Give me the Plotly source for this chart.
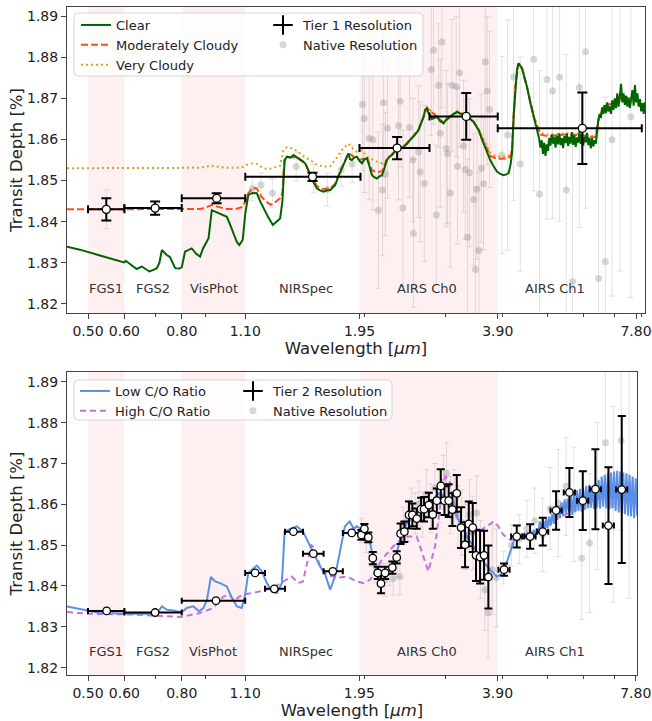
import numpy as np
import plotly.graph_objects as go

FONT = "DejaVu Sans"

# ---------------- shared axis / detector info ----------------
band_lo = [0.50, 0.80, 1.95]
band_hi = [0.60, 1.10, 3.90]
det_names = ["FGS1", "FGS2", "VisPhot", "NIRSpec", "AIRS Ch0", "AIRS Ch1"]
det_label_x = [0.548, 0.693, 0.938, 1.49, 2.74, 5.20]
det_label_y_top = 1.8238
det_label_y_bot = 1.8239
tick_vals = [0.50, 0.60, 0.80, 1.10, 1.95, 3.90, 7.80]
tick_text = ["0.50", "0.60", "0.80", "1.10", "1.95", "3.90", "7.80"]
minor_vals = [0.7, 0.9, 2, 3, 4, 5, 6, 7, 8]
ytick_vals = [1.82, 1.83, 1.84, 1.85, 1.86, 1.87, 1.88, 1.89]
ytick_text = ["1.82", "1.83", "1.84", "1.85", "1.86", "1.87", "1.88", "1.89"]

# ---------------- TOP PANEL: cloud models ----------------
clear_wl = [0.450, 0.480, 0.531, 0.558, 0.587, 0.599, 0.604, 0.617, 0.638, 0.655,
            0.668, 0.680, 0.694, 0.706, 0.715, 0.724, 0.733, 0.742, 0.754, 0.774,
            0.790, 0.800, 0.813, 0.830, 0.841, 0.860, 0.877, 0.890, 0.904, 0.915,
            0.930, 0.950, 0.970, 1.003, 1.020, 1.037, 1.055, 1.068, 1.086, 1.100,
            1.117, 1.140, 1.166, 1.185, 1.205, 1.235, 1.263, 1.290, 1.310, 1.325,
            1.332, 1.340, 1.355, 1.380, 1.401, 1.420, 1.436, 1.460, 1.485, 1.523,
            1.550, 1.575, 1.600, 1.628, 1.655, 1.684, 1.726, 1.755, 1.785, 1.815,
            1.845, 1.860, 1.877, 1.900, 1.925, 1.950, 1.974, 2.000, 2.024, 2.050,
            2.076, 2.100, 2.128, 2.155, 2.183, 2.210, 2.238, 2.265, 2.295, 2.325,
            2.352, 2.390, 2.432, 2.470, 2.515, 2.570, 2.622, 2.660, 2.689, 2.710,
            2.735, 2.760, 2.781, 2.805, 2.830, 2.876, 2.920, 2.973, 3.020, 3.074,
            3.130, 3.179, 3.240, 3.314, 3.380, 3.454, 3.500, 3.542, 3.590, 3.632,
            3.700, 3.756, 3.820, 3.885, 3.950, 4.017, 4.070, 4.119, 4.160, 4.189,
            4.225, 4.259, 4.295, 4.329, 4.365, 4.405, 4.460, 4.516, 4.590, 4.668,
            4.750]
clear_td = [1.8339, 1.8332, 1.8318, 1.8311, 1.8302, 1.8301, 1.8305, 1.8298, 1.8285, 1.8291,
            1.8284, 1.8279, 1.8283, 1.8287, 1.8300, 1.8331, 1.8325, 1.8319, 1.8314, 1.8287,
            1.8286, 1.8289, 1.8327, 1.8333, 1.8335, 1.8322, 1.8315, 1.8335, 1.8351, 1.8360,
            1.8428, 1.8423, 1.8420, 1.8412, 1.8392, 1.8372, 1.8350, 1.8343, 1.8356, 1.8420,
            1.8465, 1.8470, 1.8469, 1.8450, 1.8433, 1.8410, 1.8392, 1.8400, 1.8408, 1.8450,
            1.8520, 1.8550, 1.8558, 1.8556, 1.8562, 1.8558, 1.8554, 1.8548, 1.8542, 1.8513,
            1.8495, 1.8481, 1.8476, 1.8473, 1.8476, 1.8477, 1.8489, 1.8510, 1.8530, 1.8550,
            1.8566, 1.8552, 1.8550, 1.8556, 1.8558, 1.8548, 1.8542, 1.8552, 1.8554, 1.8535,
            1.8513, 1.8508, 1.8505, 1.8510, 1.8513, 1.8530, 1.8550, 1.8558, 1.8562, 1.8570,
            1.8574, 1.8578, 1.8582, 1.8588, 1.8599, 1.8610, 1.8623, 1.8640, 1.8655, 1.8672,
            1.8676, 1.8662, 1.8659, 1.8650, 1.8652, 1.8655, 1.8645, 1.8639, 1.8650, 1.8655,
            1.8662, 1.8667, 1.8662, 1.8659, 1.8652, 1.8643, 1.8632, 1.8623, 1.8605, 1.8591,
            1.8568, 1.8550, 1.8535, 1.8522, 1.8516, 1.8513, 1.8515, 1.8518, 1.8540, 1.8566,
            1.8660, 1.8728, 1.8770, 1.8785, 1.8780, 1.8773, 1.8750, 1.8728, 1.8690, 1.8655,
            1.8625]
# high-resolution (noisy) AIRS Ch1 part of the clear model, 4.80 - 8.16 um
clear_hires_start, clear_hires_end = 4.80, 8.16
clear_hires_td = [1.8602, 1.8580, 1.8598, 1.8565, 1.8592, 1.8560, 1.8588,
                  1.8572, 1.8604, 1.8585, 1.8612, 1.8590, 1.8606, 1.8580, 1.8609, 1.8588, 1.8615,
                  1.8586, 1.8603, 1.8579, 1.8608, 1.8591,
                  1.8614, 1.8584, 1.8606, 1.8590, 1.8618, 1.8587, 1.8610, 1.8582, 1.8605, 1.8592,
                  1.8620, 1.8589, 1.8611, 1.8585,
                  1.8607, 1.8593, 1.8616, 1.8586, 1.8604, 1.8578, 1.8603, 1.8583, 1.8598, 1.8590,
                  1.8625, 1.8648, 1.8662, 1.8652, 1.8678,
                  1.8662, 1.8684, 1.8664, 1.8690, 1.8668, 1.8680, 1.8662, 1.8695, 1.8672,
                  1.8700, 1.8676, 1.8712, 1.8680, 1.8705, 1.8735, 1.8690, 1.8712, 1.8684, 1.8706, 1.8680,
                  1.8700, 1.8676, 1.8695, 1.8720, 1.8682, 1.8732, 1.8690, 1.8712, 1.8680, 1.8698,
                  1.8668, 1.8688, 1.8662, 1.8690]

mod_wl = [0.450, 0.600, 0.800, 0.880, 0.900, 0.930, 0.960, 1.000, 1.050, 1.086,
          1.100, 1.117, 1.140, 1.166, 1.190, 1.220, 1.250, 1.280, 1.310, 1.325,
          1.332, 1.340, 1.380, 1.436, 1.485, 1.523, 1.575, 1.628, 1.684, 1.726,
          1.785, 1.845, 1.900, 1.950, 2.024, 2.076, 2.128, 2.183, 2.238, 2.295,
          2.352, 2.432, 2.515, 2.622, 2.735, 2.876, 2.973, 3.074, 3.179, 3.314,
          3.454, 3.542, 3.632, 3.756, 3.885, 4.017, 4.119, 4.160, 4.189, 4.225,
          4.259, 4.329, 4.405, 4.516, 4.668, 4.827, 5.000, 5.500, 6.000, 6.360,
          6.470, 6.630, 6.970, 7.330, 7.710, 8.170]
mod_td = [1.8430, 1.8430, 1.8430, 1.8431, 1.8434, 1.8441, 1.8436, 1.8431, 1.8431, 1.8436,
          1.8450, 1.8469, 1.8482, 1.8481, 1.8462, 1.8449, 1.8441, 1.8448, 1.8457, 1.8470,
          1.8520, 1.8550, 1.8557, 1.8555, 1.8543, 1.8516, 1.8486, 1.8479, 1.8481, 1.8492,
          1.8532, 1.8567, 1.8557, 1.8550, 1.8556, 1.8525, 1.8520, 1.8523, 1.8552, 1.8563,
          1.8575, 1.8583, 1.8600, 1.8624, 1.8676, 1.8655, 1.8640, 1.8655, 1.8667, 1.8659,
          1.8643, 1.8624, 1.8594, 1.8560, 1.8553, 1.8553, 1.8555, 1.8560, 1.8572, 1.8660,
          1.8728, 1.8784, 1.8772, 1.8727, 1.8656, 1.8612, 1.8608, 1.8612, 1.8610, 1.8605,
          1.8650, 1.8678, 1.8690, 1.8705, 1.8695, 1.8685]

vc_wl = [0.450, 0.600, 0.800, 0.880, 0.920, 0.960, 1.000, 1.050, 1.086, 1.117,
         1.140, 1.166, 1.205, 1.240, 1.280, 1.310, 1.332, 1.355, 1.401, 1.436,
         1.485, 1.523, 1.575, 1.628, 1.684, 1.726, 1.785, 1.845, 1.877, 1.925,
         1.974, 2.024, 2.076, 2.128, 2.183, 2.238, 2.295, 2.352, 2.432, 2.515,
         2.622, 2.735, 2.876, 2.973, 3.074, 3.179, 3.314, 3.454, 3.542, 3.632,
         3.756, 3.885, 4.017, 4.119, 4.160, 4.189, 4.225, 4.259, 4.329, 4.405,
         4.516, 4.668, 4.827, 5.000, 5.500, 6.000, 6.360, 6.470, 6.630, 6.970,
         7.330, 7.710, 8.170]
vc_td = [1.8530, 1.8530, 1.8530, 1.8531, 1.8536, 1.8534, 1.8531, 1.8531, 1.8533, 1.8540,
         1.8542, 1.8540, 1.8530, 1.8528, 1.8532, 1.8536, 1.8574, 1.8581, 1.8578, 1.8568,
         1.8556, 1.8550, 1.8538, 1.8534, 1.8535, 1.8550, 1.8574, 1.8590, 1.8580, 1.8570,
         1.8574, 1.8558, 1.8552, 1.8546, 1.8542, 1.8550, 1.8565, 1.8578, 1.8584, 1.8601,
         1.8625, 1.8678, 1.8657, 1.8642, 1.8657, 1.8669, 1.8661, 1.8645, 1.8627, 1.8600,
         1.8567, 1.8558, 1.8558, 1.8560, 1.8565, 1.8580, 1.8662, 1.8729, 1.8786, 1.8774,
         1.8729, 1.8658, 1.8616, 1.8612, 1.8615, 1.8613, 1.8607, 1.8652, 1.8680, 1.8692,
         1.8707, 1.8697, 1.8687]

# Tier 1 binned data
tier1_wl = [0.548, 0.700, 0.953, 1.541, 2.355, 3.330, 5.960]
tier1_td = [1.8430, 1.8433, 1.8457, 1.8509, 1.8579, 1.8656, 1.8627]
tier1_err = [0.0027, 0.0016, 0.0012, 0.0010, 0.0027, 0.0057, 0.0087]
tier1_lo = [0.50, 0.60, 0.80, 1.10, 1.95, 2.77, 3.90]
tier1_hi = [0.60, 0.80, 1.10, 1.96, 2.77, 3.90, 8.03]

# native resolution (top)
nat1_wl = [0.548, 0.700, 0.953, 1.14, 1.19, 1.26, 1.42, 1.55, 1.66, 1.78, 1.88,
           1.980, 1.997, 2.048, 2.086, 2.145, 2.189, 2.200, 2.219, 2.244, 2.372,
           2.391, 2.424, 2.506, 2.549, 2.557, 2.622, 2.644, 2.698, 2.795, 2.827,
           2.866, 2.899, 2.924, 2.949, 3.013, 3.033, 3.074, 3.100, 3.167, 3.188,
           3.220, 3.285, 3.314, 3.352, 3.385, 3.454, 3.489, 3.513, 3.549, 3.590,
           3.632, 3.664, 3.701, 3.743,
           3.984, 4.097, 4.222, 4.367, 4.668, 4.810, 4.992, 5.134, 5.318, 5.500,
           5.676, 5.870, 6.058, 6.468, 6.689, 6.918, 7.200, 7.600]
nat1_td = [1.8430, 1.8433, 1.8457, 1.8481, 1.8489, 1.8470, 1.8534, 1.8505, 1.8478, 1.8526, 1.8540,
           1.8685, 1.8651, 1.8603, 1.8599, 1.8428, 1.8477, 1.8689, 1.8516, 1.8627, 1.8633,
           1.8693, 1.8433, 1.8629, 1.8550, 1.8372, 1.8570, 1.8521, 1.8493, 1.8770, 1.8817,
           1.8416, 1.8731, 1.8615, 1.8837, 1.8578, 1.8565, 1.8470, 1.8732, 1.8728, 1.8535,
           1.8762, 1.8584, 1.8527, 1.8362, 1.8519, 1.8454, 1.8284, 1.8479, 1.8330, 1.8530,
           1.8492, 1.8789, 1.8718, 1.8673,
           1.8562, 1.8611, 1.8752, 1.8540, 1.8795, 1.8467, 1.8746, 1.8718, 1.8751, 1.8477,
           1.8254, 1.8726, 1.8813, 1.8262, 1.8303, 1.8599, 1.8700, 1.8655]
nat1_err = [0.0047, 0.0018, 0.0014, 0.0030, 0.0030, 0.0035, 0.0035, 0.0035, 0.0040, 0.0040, 0.0045,
            0.016, 0.018, 0.015, 0.017, 0.019, 0.016, 0.018, 0.015, 0.017, 0.018,
            0.016, 0.019, 0.017, 0.015, 0.018, 0.016, 0.017, 0.019, 0.016, 0.018,
            0.017, 0.015, 0.018, 0.016, 0.019, 0.017, 0.018, 0.016, 0.017, 0.019,
            0.018, 0.016, 0.017, 0.019, 0.018, 0.016, 0.020, 0.017, 0.019, 0.018,
            0.016, 0.020, 0.018, 0.019,
            0.024, 0.028, 0.030, 0.026, 0.032, 0.030, 0.034, 0.031, 0.035, 0.033,
            0.036, 0.034, 0.038, 0.036, 0.040, 0.038, 0.042, 0.044]

# ---------------- BOTTOM PANEL: C/O models ----------------
low_wl = [0.450, 0.531, 0.628, 0.706, 0.724, 0.742, 0.766, 0.800, 0.820, 0.848,
          0.873, 0.892, 0.908, 0.926, 0.946, 0.970, 1.003, 1.029, 1.055, 1.081,
          1.100, 1.117, 1.166, 1.196, 1.226, 1.257, 1.289, 1.322, 1.333, 1.340,
          1.380, 1.425, 1.470, 1.506, 1.545, 1.601, 1.643, 1.684, 1.726, 1.770,
          1.814, 1.857, 1.897, 1.925, 1.960, 2.007, 2.058, 2.110, 2.164, 2.238,
          2.313, 2.391, 2.474, 2.557, 2.644, 2.781, 2.899, 3.024, 3.126, 3.232,
          3.342, 3.454, 3.603, 3.756, 3.885, 4.017, 4.154, 4.230]
low_td = [1.8350, 1.8334, 1.8332, 1.8332, 1.8350, 1.8342, 1.8340, 1.8335, 1.8346, 1.8350,
          1.8338, 1.8346, 1.8366, 1.8422, 1.8411, 1.8407, 1.8399, 1.8371, 1.8350, 1.8346,
          1.8379, 1.8432, 1.8450, 1.8436, 1.8407, 1.8387, 1.8383, 1.8407, 1.8480, 1.8533,
          1.8540, 1.8546, 1.8533, 1.8509, 1.8485, 1.8448, 1.8428, 1.8391, 1.8423, 1.8481,
          1.8546, 1.8558, 1.8540, 1.8546, 1.8540, 1.8538, 1.8505, 1.8448, 1.8415, 1.8423,
          1.8448, 1.8513, 1.8554, 1.8570, 1.8587, 1.8603, 1.8627, 1.8615, 1.8587, 1.8554,
          1.8521, 1.8497, 1.8464, 1.8440, 1.8423, 1.8432, 1.8481, 1.8510]
low_hires_start, low_hires_end = 4.26, 7.86
low_hires_td = [1.8524, 1.8514, 1.8526, 1.8515, 1.8528, 1.8517, 1.8530, 1.8518, 1.8532, 1.8520,
                1.8533, 1.8521, 1.8537, 1.8525, 1.8541, 1.8528, 1.8558, 1.8534, 1.8562, 1.8538,
                1.8566, 1.8542, 1.8570, 1.8548, 1.8576, 1.8552, 1.8592, 1.8562, 1.8598, 1.8566,
                1.8605, 1.8574, 1.8612, 1.8578, 1.8614, 1.8580, 1.8622, 1.8574, 1.8628, 1.8580,
                1.8634, 1.8584, 1.8638, 1.8582, 1.8640, 1.8586, 1.8645, 1.8590, 1.8648, 1.8592,
                1.8646, 1.8588, 1.8652, 1.8592, 1.8660, 1.8590, 1.8668, 1.8594, 1.8672, 1.8590,
                1.8676, 1.8588, 1.8678, 1.8590, 1.8680, 1.8584, 1.8682, 1.8580, 1.8680, 1.8578,
                1.8678, 1.8576, 1.8676, 1.8572, 1.8672, 1.8570, 1.8668, 1.8566, 1.8664, 1.8572]

high_wl = [0.450, 0.500, 0.628, 0.700, 0.800, 0.877, 0.938, 0.986, 1.016, 1.040,
           1.068, 1.100, 1.146, 1.205, 1.263, 1.332, 1.389, 1.436, 1.470, 1.506,
           1.531, 1.556, 1.601, 1.657, 1.742, 1.832, 1.925, 1.990, 2.058, 2.120,
           2.183, 2.275, 2.352, 2.474, 2.601, 2.689, 2.756, 2.851, 2.924, 2.998,
           3.062, 3.126, 3.208, 3.314, 3.513, 3.695, 3.822, 3.916, 4.017, 4.154,
           4.300, 4.592, 4.909, 5.250, 5.612, 6.000, 6.415, 6.860, 7.333, 7.860]
high_td = [1.8336, 1.8332, 1.8330, 1.8327, 1.8324, 1.8334, 1.8346, 1.8374, 1.8379, 1.8364,
           1.8374, 1.8380, 1.8383, 1.8389, 1.8395, 1.8411, 1.8423, 1.8407, 1.8411, 1.8464,
           1.8501, 1.8493, 1.8448, 1.8428, 1.8420, 1.8423, 1.8411, 1.8407, 1.8415, 1.8440,
           1.8464, 1.8489, 1.8505, 1.8521, 1.8521, 1.8472, 1.8436, 1.8497, 1.8595, 1.8668,
           1.8660, 1.8611, 1.8562, 1.8530, 1.8530, 1.8546, 1.8558, 1.8546, 1.8525, 1.8513,
           1.8515, 1.8522, 1.8540, 1.8565, 1.8580, 1.8600, 1.8612, 1.8625, 1.8630, 1.8625]

# Tier 2 binned data: photometry + NIRSpec bins
tier2a_wl = [0.549, 0.700, 0.950, 1.156, 1.273, 1.401, 1.548, 1.707, 1.877]
tier2a_td = [1.8339, 1.8335, 1.8364, 1.8432, 1.8393, 1.8533, 1.8479, 1.8436, 1.8530]
tier2a_err = [0.0003, 0.0003, 0.0003, 0.0004, 0.0004, 0.0004, 0.0005, 0.0005, 0.0005]
tier2a_lo = [0.50, 0.60, 0.80, 1.10, 1.215, 1.343, 1.470, 1.630, 1.795]
tier2a_hi = [0.60, 0.80, 1.10, 1.215, 1.343, 1.470, 1.630, 1.795, 1.950]
# Tier 2 binned data: AIRS bins
tier2b_wl = [1.970, 2.000, 2.040, 2.086, 2.139, 2.173, 2.219, 2.301, 2.352, 2.398,
             2.444, 2.502, 2.544, 2.601, 2.658, 2.698, 2.763, 2.818, 2.876, 2.934,
             2.988, 3.053, 3.109, 3.179, 3.248, 3.314, 3.376, 3.444, 3.501, 3.573,
             3.645, 3.725,
             4.030, 4.295, 4.592, 4.893, 5.232, 5.593, 5.981, 6.372, 6.802, 7.272]
tier2b_td = [1.8525, 1.8540, 1.8519, 1.8468, 1.8432, 1.8406, 1.8432, 1.8445, 1.8470, 1.8528,
             1.8533, 1.8574, 1.8574, 1.8565, 1.8588, 1.8588, 1.8598, 1.8575, 1.8609, 1.8645,
             1.8609, 1.8609, 1.8587, 1.8627, 1.8543, 1.8501, 1.8552, 1.8543, 1.8475, 1.8471,
             1.8475, 1.8422,
             1.8440, 1.8521, 1.8521, 1.8533, 1.8585, 1.8629, 1.8609, 1.8637, 1.8548, 1.8636]
tier2b_err = [0.0012, 0.0012, 0.0012, 0.0015, 0.0015, 0.0024, 0.0015, 0.0015, 0.0015, 0.0025,
              0.0025, 0.0033, 0.0028, 0.0025, 0.0028, 0.0030, 0.0030, 0.0035, 0.0030, 0.0041,
              0.0035, 0.0040, 0.0040, 0.0045, 0.0050, 0.0055, 0.0055, 0.0060, 0.0063, 0.0065,
              0.0060, 0.0077,
              0.0015, 0.0027, 0.0030, 0.0034, 0.0047, 0.0060, 0.0072, 0.0098, 0.0143, 0.0180]
airs_ch0_bin_rel = 0.012
airs_ch1_bin_rel = 0.028

# native resolution (bottom)
nat2_wl = [1.97, 2.02, 2.07, 2.12, 2.17, 2.22, 2.27, 2.31, 2.36, 2.39,
           2.43, 2.48, 2.53, 2.58, 2.63, 2.68, 2.73, 2.79, 2.85, 2.91,
           2.97, 3.02, 3.08, 3.14, 3.20, 3.26, 3.32, 3.39, 3.45, 3.51,
           3.58, 3.66, 3.72, 3.80, 3.88,
           4.02, 4.18, 4.35, 4.52, 4.70, 4.89, 5.08, 5.29, 5.50, 5.72,
           5.95, 6.19, 6.44, 6.70, 6.97, 7.25, 7.55]
nat2_td = [1.8536, 1.8512, 1.8478, 1.8445, 1.8420, 1.8415, 1.8440, 1.8418, 1.8462, 1.8423,
           1.8548, 1.8560, 1.8590, 1.8578, 1.8602, 1.8575, 1.8625, 1.8590, 1.8640, 1.8620,
           1.8655, 1.8676, 1.8598, 1.8615, 1.8570, 1.8555, 1.8520, 1.8575, 1.8530, 1.8579,
           1.8465, 1.8391, 1.8334, 1.8440, 1.8420,
           1.8445, 1.8500, 1.8515, 1.8540, 1.8560, 1.8525, 1.8590, 1.8603, 1.8644, 1.8600,
           1.8468, 1.8505, 1.8620, 1.8751, 1.8600, 1.8756, 1.8650]
nat2_err = [0.003, 0.003, 0.003, 0.0035, 0.0035, 0.004, 0.004, 0.004, 0.004, 0.0045,
            0.0045, 0.005, 0.005, 0.005, 0.0055, 0.0055, 0.006, 0.006, 0.006, 0.0065,
            0.0065, 0.0075, 0.007, 0.007, 0.0075, 0.008, 0.008, 0.0085, 0.009, 0.009,
            0.0095, 0.010, 0.011, 0.011, 0.012,
            0.004, 0.005, 0.006, 0.007, 0.008, 0.009, 0.010, 0.0131, 0.012, 0.014,
            0.015, 0.017, 0.018, 0.020, 0.024, 0.022, 0.028]

# ================= figure construction =================
W, H = 652, 721
ML, MR, MT, MB = 67, 7, 7, 46
PW, PH = W - ML - MR, H - MT - MB


def pxx(px):
    return (px - ML) / PW


def pxy(py):
    return (H - MB - py) / PH


TOP_DOM = [pxy(313), 1.0]
BOT_DOM = [0.0, pxy(372)]
BOT_XDOM = [0.0, pxx(637)]

GREEN = "#006400"
ORANGE = "#ff4a1c"
GOLD = "#d9a21b"
BLUE = "#5b8fe6"
PURPLE = "#c274dc"
NAT_COL = "rgba(140,140,140,0.35)"
NAT_ERR = "rgba(150,150,150,0.28)"
SHADE = "rgba(250,200,200,0.28)"

clear_x = clear_wl + list(np.geomspace(clear_hires_start, clear_hires_end, len(clear_hires_td)))
clear_y = clear_td + clear_hires_td
low_x = low_wl + list(np.geomspace(low_hires_start, low_hires_end, len(low_hires_td)))
low_y = low_td + low_hires_td

fig = go.Figure()

# ----- top panel traces -----
fig.add_trace(go.Scatter(
    x=nat1_wl, y=nat1_td, mode="markers", xaxis="x", yaxis="y",
    marker=dict(color=NAT_COL, size=7, line=dict(width=0)),
    error_y=dict(type="data", array=nat1_err, color=NAT_ERR, thickness=1, width=3),
    showlegend=False, hoverinfo="skip"))
fig.add_trace(go.Scatter(
    x=vc_wl, y=vc_td, mode="lines", name="Very Cloudy", xaxis="x", yaxis="y",
    line=dict(color=GOLD, width=2, dash="2px,3px"), legend="legend", legendrank=3))
fig.add_trace(go.Scatter(
    x=mod_wl, y=mod_td, mode="lines", name="Moderately Cloudy", xaxis="x", yaxis="y",
    line=dict(color=ORANGE, width=2, dash="7px,3px"), legend="legend", legendrank=2))
fig.add_trace(go.Scatter(
    x=clear_x, y=clear_y, mode="lines", name="Clear", xaxis="x", yaxis="y",
    line=dict(color=GREEN, width=2), legend="legend", legendrank=1))
fig.add_trace(go.Scatter(
    x=tier1_wl, y=tier1_td, mode="markers", xaxis="x", yaxis="y",
    marker=dict(color="white", size=8, line=dict(color="black", width=1.3)),
    error_x=dict(type="data", symmetric=False,
                 array=[h - x for x, h in zip(tier1_wl, tier1_hi)],
                 arrayminus=[x - l for x, l in zip(tier1_wl, tier1_lo)],
                 color="black", thickness=2, width=4),
    error_y=dict(type="data", array=tier1_err, color="black", thickness=2, width=5),
    showlegend=False, hoverinfo="skip"))
# legend entries (column 2, top)
fig.add_trace(go.Scatter(
    x=[None], y=[None], mode="markers", name="Tier 1 Resolution", xaxis="x", yaxis="y",
    marker=dict(symbol="cross-thin", size=14, color="black", line=dict(color="black", width=2)),
    legend="legend2", legendrank=1))
fig.add_trace(go.Scatter(
    x=[None], y=[None], mode="markers", name="Native Resolution", xaxis="x", yaxis="y",
    marker=dict(symbol="circle", size=7, color=NAT_COL),
    legend="legend2", legendrank=2))

# ----- bottom panel traces -----
fig.add_trace(go.Scatter(
    x=nat2_wl, y=nat2_td, mode="markers", xaxis="x2", yaxis="y2",
    marker=dict(color=NAT_COL, size=7, line=dict(width=0)),
    error_y=dict(type="data", array=nat2_err, color=NAT_ERR, thickness=1, width=3),
    showlegend=False, hoverinfo="skip"))
fig.add_trace(go.Scatter(
    x=high_wl, y=high_td, mode="lines", name="High C/O Ratio", xaxis="x2", yaxis="y2",
    line=dict(color=PURPLE, width=2, dash="6px,4px"), legend="legend3", legendrank=2))
fig.add_trace(go.Scatter(
    x=low_x, y=low_y, mode="lines", name="Low C/O Ratio", xaxis="x2", yaxis="y2",
    line=dict(color=BLUE, width=2), legend="legend3", legendrank=1))
fig.add_trace(go.Scatter(
    x=tier2a_wl, y=tier2a_td, mode="markers", xaxis="x2", yaxis="y2",
    marker=dict(color="white", size=7.5, line=dict(color="black", width=1.3)),
    error_x=dict(type="data", symmetric=False,
                 array=[h - x for x, h in zip(tier2a_wl, tier2a_hi)],
                 arrayminus=[x - l for x, l in zip(tier2a_wl, tier2a_lo)],
                 color="black", thickness=2, width=3),
    error_y=dict(type="data", array=tier2a_err, color="black", thickness=2, width=3),
    showlegend=False, hoverinfo="skip"))
tier2b_xerr = [x * (airs_ch0_bin_rel if x < 3.9 else airs_ch1_bin_rel) for x in tier2b_wl]
fig.add_trace(go.Scatter(
    x=tier2b_wl, y=tier2b_td, mode="markers", xaxis="x2", yaxis="y2",
    marker=dict(color="white", size=7.5, line=dict(color="black", width=1.3)),
    error_x=dict(type="data", array=tier2b_xerr, color="black", thickness=2, width=3),
    error_y=dict(type="data", array=tier2b_err, color="black", thickness=2, width=4),
    showlegend=False, hoverinfo="skip"))
fig.add_trace(go.Scatter(
    x=[None], y=[None], mode="markers", name="Tier 2 Resolution", xaxis="x2", yaxis="y2",
    marker=dict(symbol="cross-thin", size=14, color="black", line=dict(color="black", width=2)),
    legend="legend4", legendrank=1))
fig.add_trace(go.Scatter(
    x=[None], y=[None], mode="markers", name="Native Resolution", xaxis="x2", yaxis="y2",
    marker=dict(symbol="circle", size=7, color=NAT_COL),
    legend="legend4", legendrank=2))

# ----- shapes: detector bands and legend frames -----
shapes = []
for xr, yr in (("x", "y domain"), ("x2", "y2 domain")):
    for lo, hi in zip(band_lo, band_hi):
        shapes.append(dict(type="rect", xref=xr, yref=yr, x0=lo, x1=hi, y0=0, y1=1,
                           fillcolor=SHADE, line=dict(width=0), layer="below"))


def frame_path(x0, y0, x1, y1, r=4):
    l, rr = pxx(x0), pxx(x1)
    t, b = pxy(y0), pxy(y1)
    rx, ry = r / PW, r / PH
    return (f"M{l+rx},{t} L{rr-rx},{t} Q{rr},{t} {rr},{t-ry} L{rr},{b+ry} "
            f"Q{rr},{b} {rr-rx},{b} L{l+rx},{b} Q{l},{b} {l},{b+ry} L{l},{t-ry} "
            f"Q{l},{t} {l+rx},{t} Z")


for box in ((74, 13, 423, 76), (74, 380, 392, 420)):
    shapes.append(dict(type="path", xref="paper", yref="paper", path=frame_path(*box),
                       fillcolor="rgba(255,255,255,0.8)",
                       line=dict(color="#d5d5d5", width=1), layer="above"))

# ----- annotations: detector names -----
annotations = []
for xr, yr, yv in (("x", "y", det_label_y_top), ("x2", "y2", det_label_y_bot)):
    for name, xv in zip(det_names, det_label_x):
        annotations.append(dict(x=np.log10(xv), y=yv, xref=xr, yref=yr, text=name,
                                showarrow=False, font=dict(size=13, color="#333")))

axis_common = dict(showline=True, linecolor="#444", linewidth=1, mirror=True,
                   ticks="outside", ticklen=5, tickwidth=1, tickcolor="#444",
                   showgrid=False, zeroline=False, automargin=False,
                   tickfont=dict(size=14, color="#222"))
xcommon = dict(axis_common, type="log", tickmode="array", tickvals=tick_vals, ticktext=tick_text,
               minor=dict(tickmode="array", tickvals=minor_vals, ticks="outside", ticklen=3,
                          tickwidth=1, tickcolor="#444"),
               title=dict(text="Wavelength [<i>μm</i>]", font=dict(size=16.5, color="#222"), standoff=2))
ycommon = dict(axis_common, tickmode="array", tickvals=ytick_vals, ticktext=ytick_text,
               title=dict(text="Transit Depth [%]", font=dict(size=16.5, color="#222"), standoff=0))

leg_common = dict(bgcolor="rgba(0,0,0,0)", borderwidth=0, xanchor="left", yanchor="top",
                  font=dict(size=13, color="#222"), traceorder="normal", itemwidth=30,
                  tracegroupgap=0)

fig.update_layout(
    width=W, height=H,
    margin=dict(l=ML, r=MR, t=MT, b=MB, pad=0, autoexpand=False),
    paper_bgcolor="white", plot_bgcolor="white",
    font=dict(family=FONT, size=14, color="#222"),
    showlegend=True,
    xaxis=dict(xcommon, domain=[0, 1], anchor="y",
               range=[np.log10(0.45), np.log10(8.16)]),
    yaxis=dict(ycommon, domain=TOP_DOM, anchor="x", range=[1.8178, 1.8922]),
    xaxis2=dict(xcommon, domain=BOT_XDOM, anchor="y2",
                range=[np.log10(0.45), np.log10(7.85)]),
    yaxis2=dict(ycommon, domain=BOT_DOM, anchor="x2", range=[1.8182, 1.8924]),
    legend=dict(leg_common, x=pxx(76), y=pxy(10)),
    legend2=dict(leg_common, x=pxx(263), y=pxy(10)),
    legend3=dict(leg_common, x=pxx(75), y=pxy(376)),
    legend4=dict(leg_common, x=pxx(233), y=pxy(376)),
    shapes=shapes,
    annotations=annotations,
    hovermode=False,
)

fig.write_html("out.html",
               config={"displayModeBar": False, "staticPlot": True},
               post_script="document.body.style.margin='0px';document.body.style.padding='0px';")
